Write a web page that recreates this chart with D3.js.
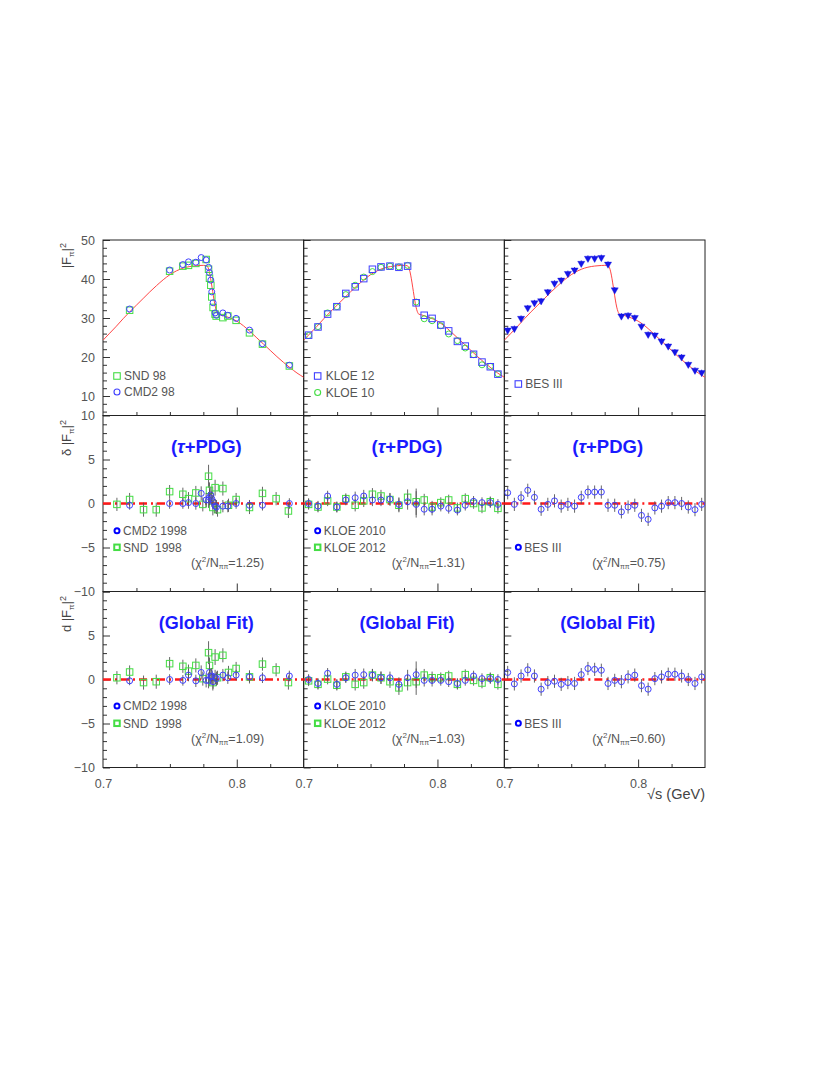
<!DOCTYPE html>
<html><head><meta charset="utf-8">
<script src="https://cdn.jsdelivr.net/npm/d3@7"></script>
<style>body{margin:0;background:#fff}svg{display:block}</style>
</head><body>
<svg id="c" width="830" height="1075"></svg>
<script>
// ---------------- DATA ----------------
const curveX = [0.700,0.705,0.710,0.715,0.720,0.725,0.730,0.735,0.740,0.745,0.750,0.755,0.760,0.765,0.770,0.775,0.7775,0.779,0.780,0.781,0.782,0.783,0.784,0.785,0.786,0.788,0.790,0.795,0.800,0.805,0.810,0.815,0.820,0.825,0.830,0.835,0.840,0.845,0.850];
const curveY = [24.3,26.1,27.9,29.8,31.6,33.3,35.0,36.7,38.3,39.8,41.1,42.1,42.8,43.2,43.4,43.5,43.4,42.5,41.0,39.0,36.8,34.6,32.8,31.6,31.0,30.8,30.6,30.0,29.2,28.0,26.5,24.9,23.3,21.7,20.1,18.6,17.2,15.9,14.8];

// Column 1: SND / CMD2 1998
const sndTopX = [0.7199,0.7498,0.7597,0.7639,0.7694,0.7771,0.7789,0.7796,0.7806,0.7813,0.7823,0.7838,0.7846,0.7896,0.7933,0.7995,0.8095,0.8192,0.8393];
const sndTop  = [32.0,42.0,43.3,43.5,44.0,45.0,42.5,40.2,38.4,35.4,32.7,31.0,30.5,30.1,30.5,29.4,26.2,23.3,17.7];
const cmd2X   = [0.7199,0.7498,0.7597,0.7639,0.7694,0.7734,0.7771,0.7789,0.7796,0.7806,0.7813,0.7823,0.7838,0.7848,0.7896,0.7933,0.7995,0.8095,0.8192,0.8393];
const cmd2Top = [32.3,42.3,43.7,44.4,44.3,45.5,44.9,43.0,41.6,39.7,36.7,33.9,31.3,30.7,31.3,30.7,29.9,26.9,23.4,17.9];
const cmd2Tau = [-0.2,0.0,0.0,0.1,0.0,1.15,0.4,0.4,0.7,0.95,0.55,0.2,-0.3,-0.4,-0.3,-0.3,0.0,-0.2,-0.2,0.0];
const cmd2Glob= [-0.15,0.0,-0.1,0.5,-0.15,0.8,-0.1,-0.1,0.8,0.3,0.4,-0.25,0.3,0.1,0.5,0.2,0.5,0.3,0.2,0.4];
const cmd2Err = [0.5,0.6,0.6,0.7,0.7,0.8,0.8,0.9,0.9,0.9,0.9,0.8,0.8,0.8,0.7,0.7,0.6,0.6,0.6,0.6];
const sndX    = [0.7104,0.7199,0.7303,0.7398,0.7498,0.7597,0.7639,0.7694,0.7746,0.7789,0.7796,0.7821,0.7838,0.7856,0.7896,0.7938,0.7995,0.8095,0.8192,0.8294,0.8386];
const sndTau  = [-0.1,0.45,-0.7,-0.7,1.35,1.05,0.55,1.2,-0.1,3.1,1.5,-0.45,1.8,-0.7,1.7,-0.2,0.45,-0.45,1.15,0.55,-0.85];
const sndGlob = [0.2,0.85,-0.35,-0.25,1.8,1.5,0.95,1.6,0.1,3.05,1.6,-0.35,2.55,0.2,2.75,0.8,1.25,0.3,1.75,1.1,-0.35];
const sndErr  = [0.75,0.75,0.8,0.8,0.75,0.75,0.75,0.8,0.8,1.3,0.9,0.9,0.9,0.8,0.8,0.75,0.75,0.75,0.75,0.75,0.8];

// Column 2: KLOE
const kloeX     = [0.7037,0.7107,0.7179,0.7248,0.7315,0.7385,0.7449,0.7514,0.7578,0.7645,0.7712,0.7777,0.7841,0.7901,0.7960,0.8025,0.8084,0.8149,0.8208,0.8270,0.8333,0.8395,0.8452];
const kloe12Top = [25.6,27.7,31.0,32.9,36.3,38.0,40.1,42.5,43.1,43.3,43.0,43.3,33.9,30.7,29.9,28.2,26.7,24.0,22.8,20.7,18.7,17.5,15.6];
const kloe10Top = [25.5,27.8,31.3,32.9,36.0,38.4,40.5,41.9,43.0,43.3,43.1,43.5,34.1,29.8,29.3,28.0,25.9,24.2,22.3,20.6,18.0,17.6,15.7];
const kloe10Tau = [0.0,-0.3,0.85,-0.4,0.4,0.65,0.85,0.4,0.4,0.5,-0.1,0.2,-0.1,-0.65,-0.65,-0.3,-0.55,-0.75,-0.2,0.25,0.1,0.1,-0.1];
const kloe12Tau = [-0.1,-0.4,0.3,-0.4,0.55,-0.2,0.3,1.05,0.85,0.45,-0.2,0.7,0.2,0.4,-0.4,0.1,0.4,-0.5,0.55,0.0,-0.5,0.2,-0.55];
const kloe10Glob= [0.0,-0.45,0.7,-0.55,0.2,0.5,0.55,0.5,0.2,0.2,-0.55,0.2,0.55,-0.1,-0.1,-0.1,-0.25,-0.45,-0.1,0.4,0.1,0.1,0.0];
const kloe12Glob= [-0.15,-0.55,0.05,-0.65,0.3,-0.55,-0.35,0.5,0.2,-0.25,-0.95,-0.35,-0.25,0.5,0.2,0.2,0.4,-0.55,0.55,-0.1,-0.4,0.2,-0.55];
const kloeErr   = [0.6,0.6,0.6,0.6,0.6,0.7,0.7,0.7,0.7,0.7,0.8,0.9,1.5,0.7,0.7,0.6,0.6,0.6,0.6,0.6,0.6,0.6,0.6];

// Column 3: BES III
const besX    = [0.7025,0.7075,0.7125,0.7175,0.7225,0.7275,0.7325,0.7375,0.7425,0.7475,0.7525,0.7575,0.7625,0.7675,0.7725,0.7775,0.7825,0.7875,0.7925,0.7975,0.8025,0.8075,0.8125,0.8175,0.8225,0.8275,0.8325,0.8375,0.8425,0.8475];
const besTop  = [26.9,27.3,29.9,32.6,33.9,34.4,36.7,38.9,39.7,41.4,42.3,44.0,45.3,45.3,45.5,43.8,37.2,30.5,30.7,30.1,27.9,25.8,25.6,24.1,22.8,21.3,20.0,18.1,16.6,16.0];
const besTau  = [1.22,-0.1,0.65,1.5,0.7,-0.65,-0.1,0.3,-0.3,-0.1,-0.3,0.7,1.3,1.3,1.3,-0.2,-0.2,-0.95,-0.4,-0.2,-1.35,-1.8,-0.5,-0.3,0.1,0.1,0.0,-0.4,-0.7,-0.1];
const besGlob = [0.8,-0.5,0.4,1.1,0.4,-1.1,-0.35,-0.2,-0.55,-0.35,-0.45,0.55,1.25,1.15,1.05,-0.45,-0.1,-0.25,0.3,0.5,-0.7,-1.1,0.1,0.3,0.6,0.6,0.4,0.0,-0.45,0.3];
const besErr  = [0.75,0.75,0.75,0.75,0.75,0.75,0.75,0.75,0.75,0.75,0.75,0.75,0.75,0.75,0.75,0.75,0.75,0.75,0.75,0.75,0.75,0.75,0.75,0.75,0.75,0.75,0.75,0.75,0.75,0.75];

const topTickLabels = ["50","40","30","20","10"];
const topTickValues = [50,40,30,20,10];
const resTickValues = [10,5,0,-5,-10];
const resTickLabels = ["10","5","0","\u22125","\u221210"];
const xTickLabels = ["0.7","0.8"];
const chi2Tau = ["1.25","1.31","0.75"];
const chi2Glob = ["1.09","1.03","0.60"];

// ---------------- LAYOUT ----------------
const svg = d3.select("#c");
const L = 103, W = 200.67;
const rows = [[240,415.5],[415.5,591.5],[591.5,767.5]];
const BLUE = "#4040ff", GREEN = "#44dd44", DBLUE="#0000ff", RED="#ff4545";
const FONT = "'Liberation Sans', Arial, Helvetica, sans-serif";

const xs = [0,1,2].map(c => d3.scaleLinear().domain([0.7,0.85]).range([L+c*W, L+(c+1)*W]));
const yTop = d3.scaleLinear().domain([5,50]).range([rows[0][1], rows[0][0]]);
const yMid = d3.scaleLinear().domain([-10,10]).range([rows[1][1], rows[1][0]]);
const yBot = d3.scaleLinear().domain([-10,10]).range([rows[2][1], rows[2][0]]);
const ys = [yTop,yMid,yBot];

const defs = svg.append("defs");
for (let r=0;r<3;r++) for (let c=0;c<3;c++) {
  defs.append("clipPath").attr("id",`cp${r}${c}`).append("rect")
    .attr("x",L+c*W).attr("y",rows[r][0]).attr("width",W).attr("height",rows[r][1]-rows[r][0]);
}

function styleAxis(g){ g.select(".domain").remove(); g.selectAll("line").attr("stroke","#333").attr("stroke-width",1); g.selectAll("text").attr("fill","#555").style("font-family",FONT).style("font-size","12.5px"); }

for (let r=0;r<3;r++){
  const y = ys[r];
  const major = r===0 ? [10,20,30,40,50] : [-10,-5,0,5,10];
  const minor = r===0 ? d3.range(6,50,2).filter(v=>v%10!==0) : d3.range(-9,10,1).filter(v=>v%5!==0);
  for (let c=0;c<3;c++){
    const x0 = L+c*W;
    svg.append("g").attr("transform",`translate(${x0},0)`).call(d3.axisRight(y).tickValues(major).tickSize(7).tickFormat("")).call(styleAxis);
    svg.append("g").attr("transform",`translate(${x0},0)`).call(d3.axisRight(y).tickValues(minor).tickSize(4).tickFormat("")).call(styleAxis);
    svg.append("g").attr("transform",`translate(0,${rows[r][1]})`).call(d3.axisTop(xs[c]).tickValues([0.725,0.75,0.775,0.825]).tickSize(3.5).tickFormat("")).call(styleAxis);
    svg.append("g").attr("transform",`translate(0,${rows[r][1]})`).call(d3.axisTop(xs[c]).tickValues([0.8]).tickSize(8).tickFormat("")).call(styleAxis);
  }
}
svg.append("g").attr("transform",`translate(${L},0)`).call(d3.axisLeft(yTop).tickValues(topTickValues).tickSize(0).tickPadding(8).tickFormat((d,i)=>topTickLabels[i])).call(styleAxis);
svg.append("g").attr("transform",`translate(${L},0)`).call(d3.axisLeft(yMid).tickValues(resTickValues).tickSize(0).tickPadding(8).tickFormat((d,i)=>resTickLabels[i])).call(styleAxis);
svg.append("g").attr("transform",`translate(${L},0)`).call(d3.axisLeft(yBot).tickValues(resTickValues.slice(1)).tickSize(0).tickPadding(8).tickFormat((d,i)=>resTickLabels[i+1])).call(styleAxis);
for (let c=0;c<3;c++){
  svg.append("g").attr("transform",`translate(0,${rows[2][1]})`).call(d3.axisBottom(xs[c]).tickValues([0.7,0.8]).tickSize(0).tickPadding(12).tickFormat((d,i)=>xTickLabels[i])).call(styleAxis);
}
svg.append("text").attr("x",705).attr("y",799).attr("text-anchor","end").attr("fill","#444")
  .style("font-family",FONT).style("font-size","14.5px").text("\u221as (GeV)");

for (let r=0;r<3;r++) for (let c=0;c<3;c++){
  svg.append("rect").attr("x",L+c*W).attr("y",rows[r][0]).attr("width",W).attr("height",rows[r][1]-rows[r][0])
    .attr("fill","none").attr("stroke","#222").attr("stroke-width",1);
}

function yTitle(prefix, yEnd){
  const t = svg.append("text").attr("transform",`translate(71,${yEnd}) rotate(-90)`).attr("text-anchor","end")
    .attr("fill","#444").style("font-family",FONT).style("font-size","13px");
  t.append("tspan").text(prefix+"|F");
  t.append("tspan").attr("dy",3).style("font-size","8px").text("\u03c0");
  t.append("tspan").attr("dy",-3).text("|");
  t.append("tspan").attr("dy",-5).style("font-size","9px").text("2");
}
yTitle("", 243);
yTitle("\u03b4 ", 420);
yTitle("d ", 596);

const line = d3.line().curve(d3.curveMonotoneX);
for (let c=0;c<3;c++){
  const pts = curveX.map((x,i)=>[xs[c](x), yTop(curveY[i])]);
  svg.append("path").attr("d",line(pts)).attr("fill","none").attr("stroke",RED).attr("stroke-width",1)
    .attr("clip-path",`url(#cp0${c})`);
}

function drawSym(g, type, x, y, color, sw, size){
  if (type==="square"){
    g.append("rect").attr("x",x-size/2).attr("y",y-size/2).attr("width",size).attr("height",size)
      .attr("fill","none").attr("stroke",color).attr("stroke-width",sw);
  } else if (type==="circle"){
    g.append("circle").attr("cx",x).attr("cy",y).attr("r",size/2).attr("fill","none").attr("stroke",color).attr("stroke-width",sw);
  } else if (type==="tri"){
    g.append("path").attr("d",d3.symbol().type(d3.symbolTriangle).size(size)()).attr("transform",`translate(${x},${y}) rotate(180)`)
      .attr("fill","#1515e6").attr("stroke","#1515e6").attr("stroke-width",0.4);
  }
}
function series(r, c, X, Y, E, type, color, size, ecol){
  const g = svg.append("g").attr("clip-path",`url(#cp${r}${c})`);
  const x = xs[c], y = ys[r];
  X.forEach((xv,i)=>{
    if (E) g.append("line").attr("x1",x(xv)).attr("x2",x(xv)).attr("y1",y(Y[i]-E[i])).attr("y2",y(Y[i]+E[i]))
      .attr("stroke",ecol||"#555").attr("stroke-width",0.9);
    drawSym(g, type, x(xv), y(Y[i]), color, 1, size);
  });
}
series(0,0,sndTopX,sndTop,null,"square",GREEN,6.5);
series(0,0,cmd2X,cmd2Top,null,"circle",BLUE,6);
series(0,1,kloeX,kloe10Top,null,"circle",GREEN,6);
series(0,1,kloeX,kloe12Top,null,"square",BLUE,6.5);
series(0,2,besX,besTop,besErr,"tri",DBLUE,22,"#1515e6");

[[1,cmd2Tau,sndTau,kloe10Tau,kloe12Tau,besTau],[2,cmd2Glob,sndGlob,kloe10Glob,kloe12Glob,besGlob]].forEach(([r,cm,sn,k10,k12,bs])=>{
  for (let c=0;c<3;c++){
    svg.append("line").attr("x1",L+c*W).attr("x2",L+(c+1)*W).attr("y1",ys[r](0)).attr("y2",ys[r](0))
      .attr("stroke","#ff1a1a").attr("stroke-width",2.3).attr("stroke-dasharray","8,4,2,4");
  }
  series(r,0,sndX,sn,sndErr,"square",GREEN,6.5);
  series(r,0,cmd2X,cm,cmd2Err,"circle",BLUE,6);
  series(r,1,kloeX,k12,kloeErr,"square",GREEN,6.5);
  series(r,1,kloeX,k10,kloeErr,"circle",BLUE,6);
  series(r,2,besX,bs,besErr,"circle",BLUE,6);
});

function txt(x,y,s,opts={}){
  return svg.append("text").attr("x",x).attr("y",y).attr("text-anchor",opts.anchor||"start")
    .attr("fill",opts.fill||"#555").style("font-family",opts.font||FONT).style("font-size",(opts.size||12)+"px")
    .style("font-weight",opts.weight||"normal").style("white-space","pre").text(s);
}
for (let c=0;c<3;c++){
  const cx = L+c*W+W/2+3;
  const t1 = svg.append("text").attr("x",cx).attr("y",453).attr("text-anchor","middle").attr("fill","#1a1aff")
    .style("font-family",FONT).style("font-size","18.5px").style("font-weight","bold");
  t1.append("tspan").text("(");
  t1.append("tspan").style("font-style","italic").text("\u03c4");
  t1.append("tspan").text("+PDG)");
  txt(cx,629,"(Global Fit)",{anchor:"middle",fill:"#1a1aff",size:18,weight:"bold"});
}
function chi2(c, y, val){
  const t = svg.append("text").attr("x",L+c*W+88).attr("y",y).attr("fill","#555").style("font-family",FONT).style("font-size","12.5px");
  t.append("tspan").text("(\u03c7");
  t.append("tspan").attr("dy",-5).style("font-size","8px").text("2");
  t.append("tspan").attr("dy",5).text("/N");
  t.append("tspan").attr("dy",2).style("font-size","7px").text("\u03c0\u03c0");
  t.append("tspan").attr("dy",-2).text("="+val+")");
}
for (let c=0;c<3;c++){ chi2(c,567,chi2Tau[c]); chi2(c,742.5,chi2Glob[c]); }

function leg(c, y, type, color, label, sw, size, tx){
  const g = svg.append("g");
  drawSym(g,type,L+c*W+14,y,color,sw,size);
  txt(L+c*W+(tx||21),y+4.3,label,{size:12});
}
leg(0,376,"square",GREEN,"SND 98",1.1,6.5);
leg(0,392,"circle",BLUE,"CMD2 98",1.1,6);
leg(1,376,"square",BLUE,"KLOE 12",1.1,6.5,22);
leg(1,392.5,"circle",GREEN,"KLOE 10",1.1,6,22);
leg(2,384,"square",BLUE,"BES III",1.1,6.5);
[[1,530.7,547.3],[2,706,723.3]].forEach(([r,y1,y2])=>{
  leg(0,y1,"circle",DBLUE,"CMD2 1998",2,5,20);
  leg(0,y2,"square",GREEN,"SND  1998",2,5.5,20);
  leg(1,y1,"circle",DBLUE,"KLOE 2010",2,5,20);
  leg(1,y2,"square",GREEN,"KLOE 2012",2,5.5,20);
  leg(2,y2,"circle",DBLUE,"BES III",2,5,20);
});
</script>
</body></html>
